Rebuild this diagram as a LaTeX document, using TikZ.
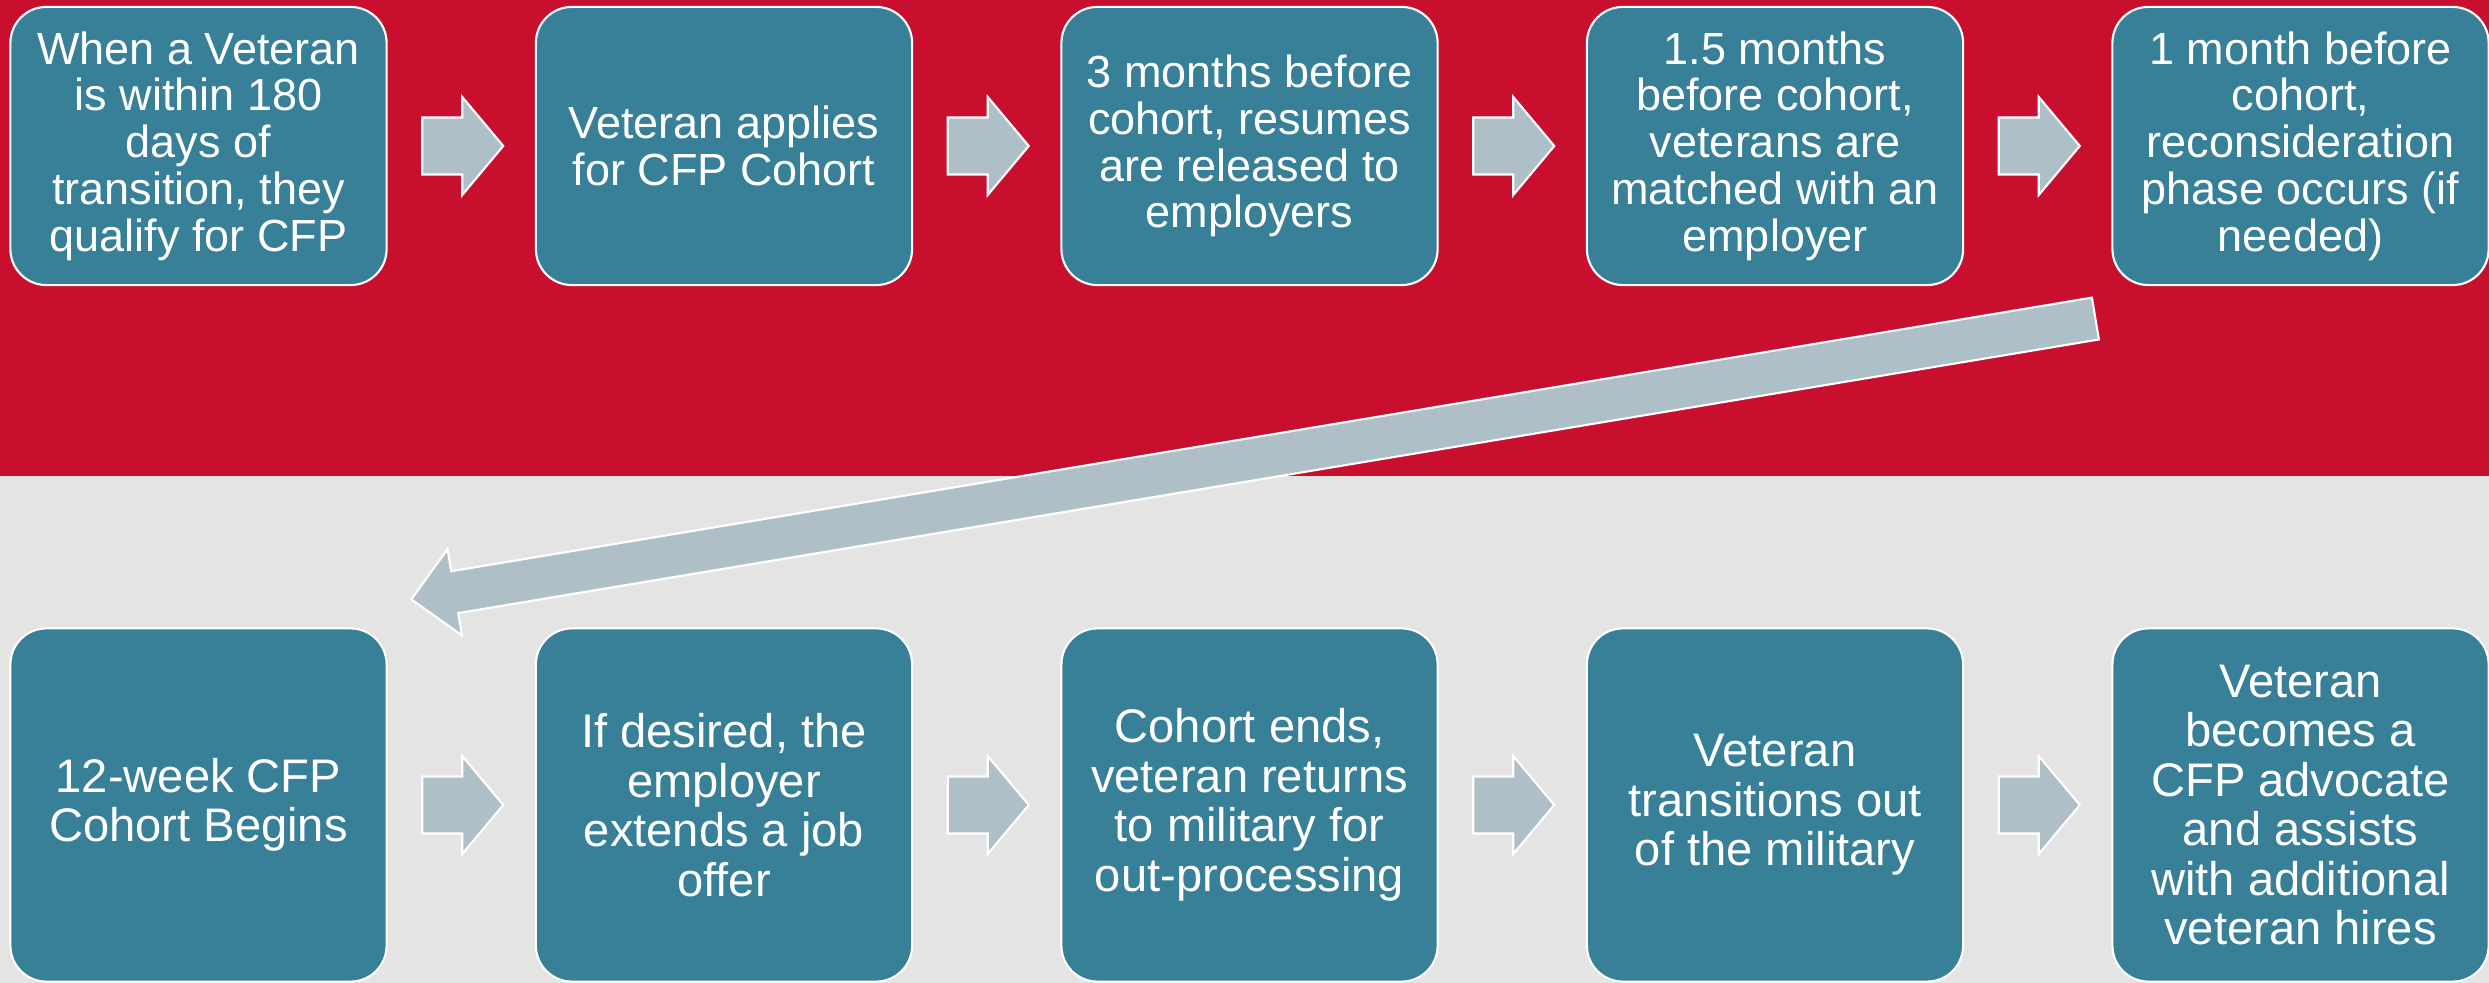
\documentclass[tikz,border=0pt]{standalone}
\usepackage{fontspec}
\setmainfont{Liberation Sans}
\usetikzlibrary{calc}
\definecolor{bandred}{RGB}{200,16,46}
\definecolor{bandgray}{RGB}{228,228,228}
\definecolor{boxteal}{RGB}{56,127,152}
\definecolor{arrowgray}{RGB}{174,191,200}
\tikzset{
  stepbox/.style={draw=white, line width=0.6pt, fill=boxteal, rounded corners=0.36cm,
    minimum width=3.76cm, text=white, align=center, inner sep=0pt, outer sep=0pt},
  toprow/.style={stepbox, minimum height=2.78cm, font=\fontsize{12.8}{13.3}\selectfont},
  botrow/.style={stepbox, minimum height=3.53cm, font=\fontsize{13.4}{14.1}\selectfont},
  blockarrow/.style={draw=white, line width=0.6pt, fill=arrowgray, line join=miter},
  pics/flowarrow/.style={code={
    \draw[blockarrow] (-39,-28.5) -- (1,-28.5) -- (1,-49) -- (42,0) -- (1,49) -- (1,28.5) -- (-39,28.5) -- cycle;}}
}
\begin{document}
\begin{tikzpicture}[x=0.01cm, y=-0.01cm]
\useasboundingbox (0,0) rectangle (2489,983);
\fill[bandred] (0,0) rectangle (2489,476);
\fill[bandgray] (0,476) rectangle (2489,983);
% top row
\node[toprow] (b1) at (198.5,146) {When a Veteran\\is within 180\\days of\\transition, they\\qualify for CFP};
\node[toprow] (b2) at (724,146) {Veteran applies\\for CFP Cohort};
\node[toprow] (b3) at (1249.5,146) {3 months before\\cohort, resumes\\are released to\\employers};
\node[toprow] (b4) at (1775,146) {1.5 months\\before cohort,\\veterans are\\matched with an\\employer};
\node[toprow] (b5) at (2300.5,146) {1 month before\\cohort,\\reconsideration\\phase occurs (if\\needed)};
% bottom row
\node[botrow] (b6) at (198.5,805) {12-week CFP\\Cohort Begins};
\node[botrow] (b7) at (724,805) {If desired, the\\employer\\extends a job\\offer};
\node[botrow] (b8) at (1249.5,805) {Cohort ends,\\veteran returns\\to military for\\out-processing};
\node[botrow] (b9) at (1775,805) {Veteran\\transitions out\\of the military};
\node[botrow] (b10) at (2300.5,805) {Veteran\\becomes a\\CFP advocate\\and assists\\with additional\\veteran hires};
% small arrows
\foreach \a/\b in {b1/b2,b2/b3,b3/b4,b4/b5,b6/b7,b7/b8,b8/b9,b9/b10}
  \path ($(\a.east)!0.5!(\b.west)$) pic {flowarrow};
% big return arrow
\coordinate (T) at ($(b5.south west)+(-17,33.5)$);
\coordinate (H) at ($(b6.north east)+(24.7,-29)$);
\coordinate (B) at ($(H)!0.44cm!(T)$);
\draw[blockarrow]
  ($(T)!0.212cm!90:(H)$) --
  ($(B)!0.212cm!-90:(T)$) --
  ($(B)!0.437cm!-90:(T)$) --
  (H) --
  ($(B)!0.437cm!90:(T)$) --
  ($(B)!0.212cm!90:(T)$) --
  ($(T)!0.212cm!-90:(H)$) -- cycle;
\end{tikzpicture}
\end{document}
